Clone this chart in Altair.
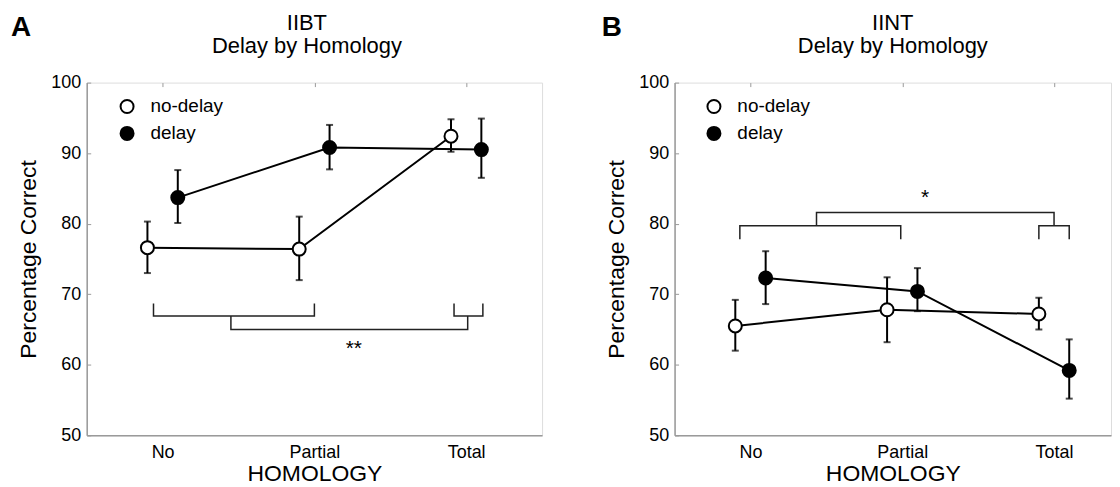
import altair as alt
import pandas as pd

# ---------------- data ----------------
categories = ["No", "Partial", "Total"]
conditions = ["no-delay", "delay"]
cond_offset = [-0.1, 0.1]

panel_letters = ["A", "B"]
panel_titles = [["IIBT", "Delay by Homology"], ["IINT", "Delay by Homology"]]

# Panel A (IIBT)
A_nodelay_mean = [76.6, 76.4, 92.4]
A_nodelay_lo = [73.0, 72.0, 90.2]
A_nodelay_hi = [80.3, 81.0, 94.8]
A_delay_mean = [83.7, 90.8, 90.5]
A_delay_lo = [80.1, 87.7, 86.5]
A_delay_hi = [87.6, 94.0, 94.9]

# Panel B (IINT)
B_nodelay_mean = [65.5, 67.8, 67.2]
B_nodelay_lo = [62.0, 63.2, 65.0]
B_nodelay_hi = [69.2, 72.4, 69.5]
B_delay_mean = [72.3, 70.4, 59.2]
B_delay_lo = [68.6, 67.6, 55.2]
B_delay_hi = [76.1, 73.7, 63.6]

# significance brackets: (x list, y list) per path
A_brackets = [
    ([0.94, 0.94, 2.0, 2.0], [68.7, 66.9, 66.9, 68.7]),
    ([2.92, 2.92, 3.11, 3.11], [68.7, 66.9, 66.9, 68.7]),
    ([1.45, 1.45, 3.01, 3.01], [66.9, 65.0, 65.0, 66.9]),
]
A_star = ("**", 2.26, 62.9)
B_brackets = [
    ([0.93, 0.93, 1.99, 1.99], [77.8, 79.7, 79.7, 77.8]),
    ([2.90, 2.90, 3.10, 3.10], [77.8, 79.7, 79.7, 77.8]),
    ([1.435, 1.435, 3.0, 3.0], [79.7, 81.6, 81.6, 79.7]),
]
B_star = ("*", 2.15, 84.3)

y_ticks = [50, 60, 70, 80, 90, 100]
FONT = "Liberation Sans"
AXIS_GREY = "#9a9a9a"


def build_panel(letter, title_lines, nd, d, brackets, star, width, xmax,
                title_cx, letter_x, legend_x):
    rows = []
    for ci, (cond, series) in enumerate(zip(conditions, [nd, d])):
        mean, lo, hi = series
        for k, cat in enumerate(categories):
            rows.append({"x": k + 1 + cond_offset[ci], "y": mean[k], "lo": lo[k],
                         "hi": hi[k], "cond": cond, "cat": cat})
    df = pd.DataFrame(rows)
    caps = pd.concat([df.assign(y=df["lo"]), df.assign(y=df["hi"])])

    brows = []
    for bi, (bx, by) in enumerate(brackets):
        for j, (xx, yy) in enumerate(zip(bx, by)):
            brows.append({"x": xx, "y": yy, "seg": bi, "ord": j})
    bdf = pd.DataFrame(brows)
    sdf = pd.DataFrame([{"x": star[1], "y": star[2], "t": star[0]}])

    label_expr = "[" + ",".join("'%s'" % c for c in categories) + "][datum.value - 1]"
    xscale = alt.Scale(domain=[0.5, xmax], nice=False, zero=False)
    yscale = alt.Scale(domain=[50, 100], nice=False, zero=False)
    xaxis = alt.Axis(values=[1, 2, 3], labelExpr=label_expr, title="HOMOLOGY",
                     labelFontSize=18, titleFontSize=23, titleFontWeight="normal",
                     labelPadding=8, titlePadding=1, ticks=False, tickSize=0,
                     grid=True, gridDash=[4, 2000], gridColor=AXIS_GREY, gridWidth=1,
                     domainColor=AXIS_GREY, domainWidth=1.5, labelColor="black",
                     titleColor="black", labelFont=FONT, titleFont=FONT)
    yaxis = alt.Axis(values=y_ticks, title="Percentage Correct",
                     labelFontSize=18, titleFontSize=23, titleFontWeight="normal",
                     labelPadding=6, titlePadding=10, ticks=False, tickSize=0,
                     grid=True, gridDash=[4, 2000], gridColor=AXIS_GREY, gridWidth=1,
                     domainColor=AXIS_GREY, domainWidth=1.5, labelColor="black",
                     titleColor="black", labelFont=FONT, titleFont=FONT)
    X = alt.X("x:Q", scale=xscale, axis=xaxis)

    def Y(f):
        return alt.Y(f + ":Q", scale=yscale, axis=yaxis)

    bracket_layer = alt.Chart(bdf).mark_line(color="#222", strokeWidth=1.5).encode(
        x=X, y=Y("y"), detail="seg:N", order="ord:Q")
    line_layer = alt.Chart(df).mark_line(color="black", strokeWidth=2).encode(
        x=X, y=Y("y"), detail="cond:N")
    err_layer = alt.Chart(df).mark_rule(color="black", strokeWidth=2).encode(
        x=X, y=Y("lo"), y2="hi:Q")
    cap_layer = alt.Chart(caps).mark_tick(color="black", orient="horizontal",
                                          size=7, thickness=2).encode(x=X, y=Y("y"))
    pt_layer = alt.Chart(df).mark_point(filled=True, size=170, stroke="black",
                                        strokeWidth=2, shape="circle", opacity=1).encode(
        x=X, y=Y("y"),
        fill=alt.Fill("cond:N", scale=alt.Scale(domain=conditions, range=["white", "black"]),
                      legend=alt.Legend(title=None, orient="none", legendX=legend_x,
                                        legendY=14.5, symbolType="circle", symbolSize=170,
                                        symbolStrokeColor="black", symbolStrokeWidth=2,
                                        labelFontSize=19, labelFont=FONT, labelColor="black",
                                        labelOffset=14, rowPadding=4, padding=0)))
    star_layer = alt.Chart(sdf).mark_text(fontSize=21, font=FONT, color="black",
                                          baseline="alphabetic", dy=11).encode(
        x=X, y=Y("y"), text="t:N")
    letter_layer = alt.Chart(pd.DataFrame({"t": [letter]})).mark_text(
        fontSize=28, fontWeight="bold", font=FONT, color="black", align="left",
        baseline="alphabetic").encode(x=alt.value(letter_x), y=alt.value(-47), text="t:N")
    title_df = pd.DataFrame({"t": title_lines})
    t1 = alt.Chart(title_df.iloc[[0]]).mark_text(
        fontSize=22, font=FONT, color="black", align="center",
        baseline="alphabetic").encode(x=alt.value(title_cx), y=alt.value(-53), text="t:N")
    t2 = alt.Chart(title_df.iloc[[1]]).mark_text(
        fontSize=22, font=FONT, color="black", align="center",
        baseline="alphabetic").encode(x=alt.value(title_cx), y=alt.value(-30), text="t:N")

    return alt.layer(bracket_layer, line_layer, err_layer, cap_layer, pt_layer,
                     star_layer, letter_layer, t1, t2).properties(
        width=width, height=354)


panelA = build_panel(panel_letters[0], panel_titles[0],
                     (A_nodelay_mean, A_nodelay_lo, A_nodelay_hi),
                     (A_delay_mean, A_delay_lo, A_delay_hi),
                     A_brackets, A_star, width=457, xmax=3.5, title_cx=221,
                     letter_x=-76, legend_x=31)
panelB = build_panel(panel_letters[1], panel_titles[1],
                     (B_nodelay_mean, B_nodelay_lo, B_nodelay_hi),
                     (B_delay_mean, B_delay_lo, B_delay_hi),
                     B_brackets, B_star, width=438, xmax=0.5 + 438 / (457 / 3),
                     title_cx=219, letter_x=-73, legend_x=30)

chart = alt.hconcat(panelA, panelB, spacing=58).resolve_scale(
    fill="independent", x="independent", y="independent"
).properties(
    padding={"left": 2, "top": 2, "right": 0, "bottom": 0}
).configure_view(stroke="transparent", strokeWidth=0).configure(font=FONT)

chart.save("out.html", embed_options={"renderer": "svg", "actions": False})
